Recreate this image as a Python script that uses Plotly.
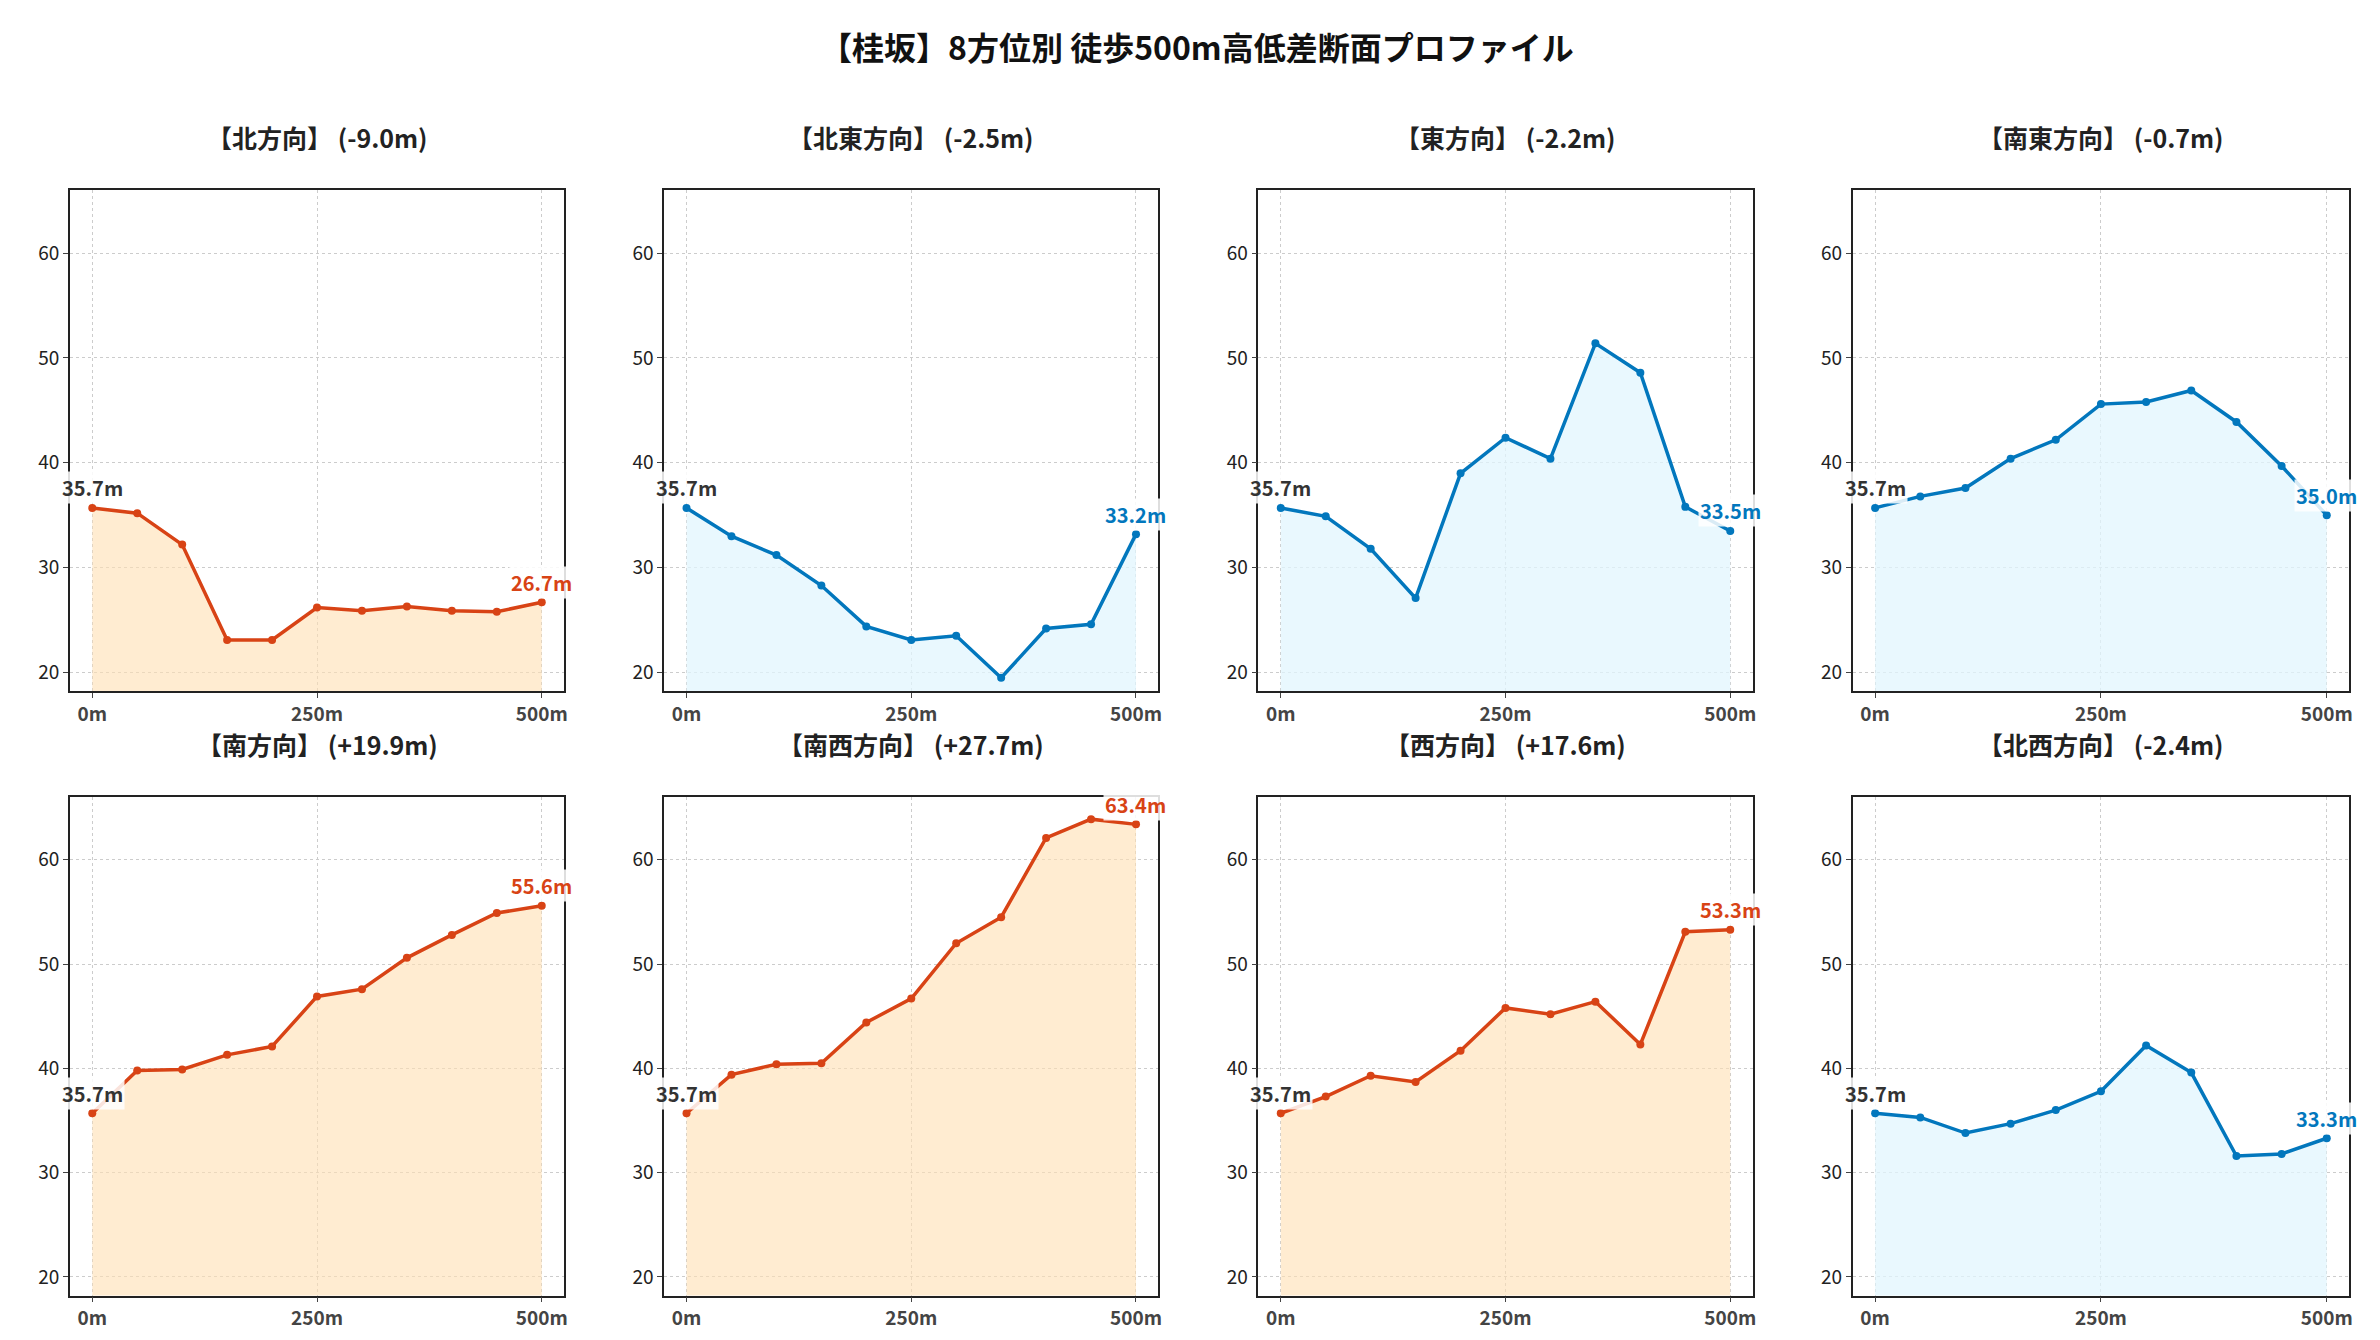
import plotly.graph_objects as go
from plotly.subplots import make_subplots

dist = [0, 50, 100, 150, 200, 250, 300, 350, 400, 450, 500]
names = ["北方向", "北東方向", "東方向", "南東方向", "南方向", "南西方向", "西方向", "北西方向"]
north = [35.7, 35.2, 32.2, 23.1, 23.1, 26.2, 25.9, 26.3, 25.9, 25.8, 26.7]
northeast = [35.7, 33.0, 31.2, 28.3, 24.4, 23.1, 23.5, 19.5, 24.2, 24.6, 33.2]
east = [35.7, 34.9, 31.8, 27.1, 39.0, 42.4, 40.4, 51.4, 48.6, 35.8, 33.5]
southeast = [35.7, 36.8, 37.6, 40.4, 42.2, 45.6, 45.8, 46.9, 43.9, 39.7, 35.0]
south = [35.7, 39.8, 39.9, 41.3, 42.1, 46.9, 47.6, 50.6, 52.8, 54.9, 55.6]
southwest = [35.7, 39.4, 40.4, 40.5, 44.4, 46.7, 52.0, 54.5, 62.1, 63.9, 63.4]
west = [35.7, 37.3, 39.3, 38.7, 41.7, 45.8, 45.2, 46.4, 42.3, 53.1, 53.3]
northwest = [35.7, 35.3, 33.8, 34.7, 36.0, 37.8, 42.2, 39.6, 31.6, 31.8, 33.3]
series = [north, northeast, east, southeast, south, southwest, west, northwest]

RED, BLUE = "#d84315", "#0277bd"
FRED, FBLUE = "rgba(255,224,178,0.6)", "rgba(225,245,254,0.75)"

fig = make_subplots(rows=2, cols=4)
xd = [(0.026, 0.234), (0.276, 0.484), (0.526, 0.734), (0.776, 0.985)]
yd = [(0.490, 0.864), (0.039, 0.411)]
for i, (nm, ys) in enumerate(zip(names, series)):
    r, c = i // 4 + 1, i % 4 + 1
    diff = ys[-1] - ys[0]
    col, fc = (RED, FRED) if diff > 0 or i == 0 else (BLUE, FBLUE)
    fig.add_trace(go.Scatter(x=dist, y=[18.2]*len(dist), mode="lines", line=dict(width=0),
                             showlegend=False, hoverinfo="skip"), row=r, col=c)
    fig.add_trace(go.Scatter(x=dist, y=ys, mode="lines+markers", fill="tonexty", fillcolor=fc,
                             line=dict(color=col, width=3.5), marker=dict(size=8, color=col),
                             showlegend=False), row=r, col=c)
    k = i + 1
    xa, ya = ("x" if k == 1 else f"x{k}"), ("y" if k == 1 else f"y{k}")
    fig.add_annotation(x=dist[0], y=ys[0], xref=xa, yref=ya, text=f"<b>{ys[0]:.1f}m</b>",
                       showarrow=False, yshift=20, font=dict(size=20, color="#333"),
                       bgcolor="rgba(255,255,255,0.85)")
    fig.add_annotation(x=dist[-1], y=ys[-1], xref=xa, yref=ya, text=f"<b>{ys[-1]:.1f}m</b>",
                       showarrow=False, yshift=20, font=dict(size=20, color=col),
                       bgcolor="rgba(255,255,255,0.85)")
    fig.add_annotation(x=sum(xd[c-1])/2, y=yd[r-1][1] + 0.04, xref="paper", yref="paper",
                       xanchor="center", yanchor="middle",
                       text=f"<b>【{nm}】 ({diff:+.1f}m)</b>", showarrow=False,
                       font=dict(size=25, color="#222"))
    fig.update_xaxes(domain=xd[c-1], range=[-25, 525], tickvals=[0, 250, 500],
                     ticktext=["<b>0m</b>", "<b>250m</b>", "<b>500m</b>"],
                     tickfont=dict(size=19, color="#444"), showgrid=True,
                     gridcolor="#ccc", griddash="dot", showline=True, mirror=True,
                     linecolor="#222", linewidth=1.5, ticks="outside", zeroline=False, row=r, col=c)
    fig.update_yaxes(domain=yd[r-1], range=[18.2, 66], tickvals=[20, 30, 40, 50, 60],
                     tickfont=dict(size=19, color="#222"), showgrid=True,
                     gridcolor="#ccc", griddash="dot", showline=True, mirror=True,
                     linecolor="#222", linewidth=1.5, ticks="outside", zeroline=False, row=r, col=c)

fig.add_annotation(x=0.5, y=0.99, xref="paper", yref="paper", xanchor="center", yanchor="top",
                   text="<b>【桂坂】8方位別 徒歩500m高低差断面プロファイル</b>",
                   showarrow=False, font=dict(size=32, color="#111"))
fig.update_layout(width=2380, height=1340, margin=dict(l=0, r=0, t=0, b=0),
                  plot_bgcolor="white", paper_bgcolor="white",
                  font=dict(family="Noto Sans CJK JP, DejaVu Sans"))
fig.write_html("out.html")
